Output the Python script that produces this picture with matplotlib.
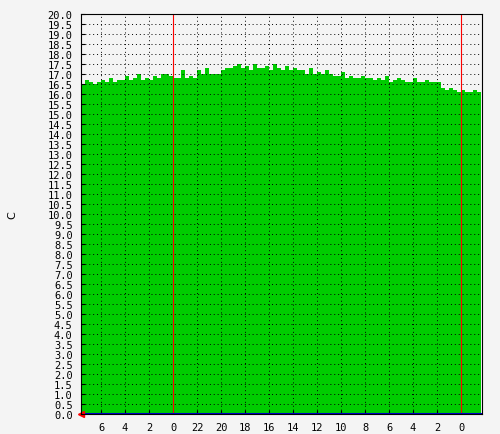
import numpy as np
import matplotlib.pyplot as plt
from matplotlib.ticker import MultipleLocator

# hours relative to first midnight; samples every 20 min
T_START = -7.67
STEP = 1 / 3
temps = [
    16.5, 16.7, 16.6, 16.5, 16.6, 16.7, 16.6, 16.8, 16.6, 16.7,
    16.7, 16.9, 16.7, 16.8, 17.0, 16.7, 16.8, 16.7, 16.9, 16.8,
    17.0, 17.0, 16.9, 16.8, 16.8, 17.2, 16.8, 16.9, 16.8, 17.2,
    17.0, 17.3, 17.0, 17.0, 17.0, 17.2, 17.3, 17.3, 17.4, 17.5,
    17.3, 17.4, 17.2, 17.5, 17.3, 17.3, 17.4, 17.2, 17.5, 17.3,
    17.2, 17.4, 17.2, 17.3, 17.2, 17.2, 17.0, 17.3, 17.0, 17.1,
    17.0, 17.2, 17.0, 16.9, 16.9, 17.1, 16.8, 16.9, 16.8, 16.8,
    16.9, 16.8, 16.8, 16.7, 16.8, 16.7, 16.9, 16.6, 16.7, 16.8,
    16.7, 16.6, 16.6, 16.8, 16.6, 16.6, 16.7, 16.6, 16.6, 16.6,
    16.3, 16.2, 16.3, 16.2, 16.1, 16.2, 16.1, 16.1, 16.2, 16.1,
]
hours = T_START + STEP * np.arange(len(temps) + 1)
tick_hours = np.arange(-6, 26, 2)
tick_labels = [str(int((-h) % 24 if h <= 0 else (24 - h) % 24)) for h in tick_hours]

fig = plt.figure(figsize=(5.0, 4.35), dpi=100, facecolor='#f4f4f4')
ax = fig.add_axes([0.162, 0.046, 0.802, 0.92])
ax.set_facecolor('#f4f4f4')
ax.stairs(temps, hours, fill=True, color='#00cc00', baseline=0)
ax.set_xlim(T_START, T_START + 33.42)
ax.set_ylim(0, 20)
ax.yaxis.set_major_locator(MultipleLocator(0.5))
ax.set_yticklabels([])
ax.set_yticks(np.arange(0, 20.01, 0.5))
ax.set_yticklabels([f'{v:.1f}' for v in np.arange(0, 20.01, 0.5)],
                   fontsize=7.5, family='DejaVu Sans Mono')
ax.set_xticks(tick_hours)
ax.set_xticklabels(tick_labels, fontsize=7.5, family='DejaVu Sans Mono')
ax.tick_params(direction='in', length=3, width=0.8, pad=6)
ax.grid(True, color='black', linestyle=(0, (1, 3)), linewidth=0.7)
for h in (0, 24):
    ax.axvline(h, color='#ff0000', lw=0.8)
ax.axhline(0, color='#0000cc', lw=1.5)
ax.plot([T_START], [0], marker='<', color='red', ms=5, clip_on=False)
for s in ax.spines.values():
    s.set_linewidth(0.8)
ax.set_ylabel('C', fontsize=8, labelpad=22)
fig.savefig('out.png', facecolor=fig.get_facecolor())
